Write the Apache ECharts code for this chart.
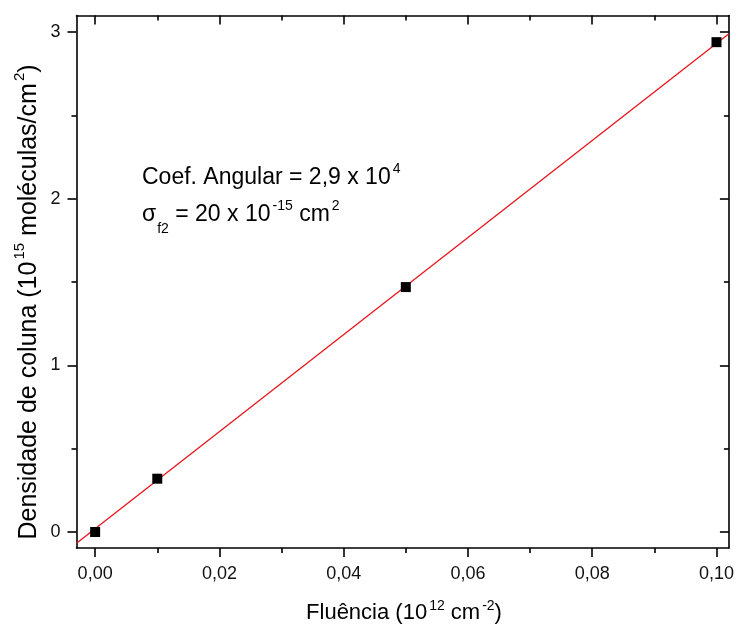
<!DOCTYPE html>
<html>
<head>
<meta charset="utf-8">
<script src="https://cdn.jsdelivr.net/npm/echarts@6/dist/echarts.min.js"></script>
<style>html,body{margin:0;padding:0;background:#fff}#c{width:737px;height:630px}</style>
</head>
<body>
<div id="c"></div>
<script>
// Data
const fluencia = [0, 0.01, 0.05, 0.10];
const densidade = [0, 0.32, 1.47, 2.94];
const fitX = [-0.003, 0.102];
const fitY = [-0.068, 2.99];
const xMajorTicks = [0, 0.02, 0.04, 0.06, 0.08, 0.10];
const xMinorTicks = [0.01, 0.03, 0.05, 0.07, 0.09];
const yMajorTicks = [0, 1, 2, 3];
const yMinorTicks = [0.5, 1.5, 2.5];
const xRange = [-0.003, 0.102];
const yRange = [-0.096, 3.10];

const FONT = '"Liberation Sans", Arial, sans-serif';
const chart = echarts.init(document.getElementById('c'));
const axColor = '#000';

function xAxisDef(pos, ticks, len, inside, lineShow, labels) {
  return {
    type: 'value', position: pos, min: xRange[0], max: xRange[1],
    axisLine: {show: lineShow, onZero: false, lineStyle: {color: axColor, width: 1.6}},
    axisTick: {show: true, customValues: ticks, length: len, inside: inside, lineStyle: {color: axColor, width: 1.6}},
    axisLabel: labels ? {show: true, customValues: ticks, margin: 17, fontSize: 18, color: '#111', fontFamily: FONT,
      formatter: v => v.toFixed(2).replace('.', ',')} : {show: false},
    splitLine: {show: false}
  };
}
function yAxisDef(pos, ticks, len, inside, lineShow, labels) {
  return {
    type: 'value', position: pos, min: yRange[0], max: yRange[1],
    axisLine: {show: lineShow, onZero: false, lineStyle: {color: axColor, width: 1.6}},
    axisTick: {show: true, customValues: ticks, length: len, inside: inside, lineStyle: {color: axColor, width: 1.6}},
    axisLabel: labels ? {show: true, customValues: ticks, margin: 16, fontSize: 18, color: '#111', fontFamily: FONT,
      formatter: v => String(v)} : {show: false},
    splitLine: {show: false}
  };
}

const base = {fontFamily: FONT, color: '#111', verticalAlign: 'top'};
const xtMain = Object.assign({}, base, {fontSize: 22, lineHeight: 26, padding: [3, 0, 0, 0]});
const xtSup = Object.assign({}, base, {fontSize: 14, lineHeight: 14, padding: [0, 0, 0, 2]});
const ytMain = Object.assign({}, base, {fontSize: 25, lineHeight: 29, padding: [4, 0, 0, 0]});
const ytSup = Object.assign({}, base, {fontSize: 15, lineHeight: 15, padding: [0, 0, 0, 2]});
const annMain = Object.assign({}, base, {fontSize: 23, lineHeight: 27, padding: [4, 0, 0, 0]});
const annSup = Object.assign({}, base, {fontSize: 14, lineHeight: 14, padding: [0, 0, 0, 2]});
const annSub = Object.assign({}, base, {fontSize: 14, lineHeight: 14, padding: [23, 0, 0, 1]});

chart.setOption({
  animation: false,
  backgroundColor: '#fff',
  grid: {left: 76.5, right: 8, top: 15.5, bottom: 82, containLabel: false},
  xAxis: [
    xAxisDef('bottom', xMajorTicks, 9, false, true, true),
    xAxisDef('bottom', xMinorTicks, 5, false, false, false),
    xAxisDef('top', xMajorTicks, 9, true, true, false),
    xAxisDef('top', xMinorTicks, 5, true, false, false)
  ],
  yAxis: [
    yAxisDef('left', yMajorTicks, 9, false, true, true),
    yAxisDef('left', yMinorTicks, 5, false, false, false),
    yAxisDef('right', yMajorTicks, 9, true, true, false),
    yAxisDef('right', yMinorTicks, 5, true, false, false)
  ],
  series: [
    {type: 'line', xAxisIndex: 0, yAxisIndex: 0, data: fitX.map((x, i) => [x, fitY[i]]),
      symbol: 'none', lineStyle: {color: '#e8141c', width: 1.3}, clip: true, z: 2},
    {type: 'scatter', xAxisIndex: 0, yAxisIndex: 0, data: fluencia.map((x, i) => [x, densidade[i]]),
      symbol: 'rect', symbolSize: 10, itemStyle: {color: '#000', opacity: 1}, z: 3}
  ],
  graphic: [
    {type: 'text', x: 404, y: 612, style: {
      text: '{m|Fluência (10}{s|12}{m| cm}{s|-2}{m|)}',
      rich: {m: xtMain, s: xtSup}, align: 'center', verticalAlign: 'middle'}},
    {type: 'text', x: 27, y: 302, rotation: Math.PI / 2, style: {
      text: '{m|Densidade de coluna (10}{s|15}{m| moléculas/cm}{s|2}{m|)}',
      rich: {m: ytMain, s: ytSup}, align: 'center', verticalAlign: 'middle'}},
    {type: 'text', x: 142, y: 162, style: {
      text: '{m|Coef. Angular = 2,9 x 10}{s|4}',
      rich: {m: annMain, s: annSup}}},
    {type: 'text', x: 142, y: 199, style: {
      text: '{m|σ}{b|f2}{m| = 20 x 10}{s|-15}{m| cm}{s|2}',
      rich: {m: annMain, s: annSup, b: annSub}}}
  ]
});
</script>
</body>
</html>
